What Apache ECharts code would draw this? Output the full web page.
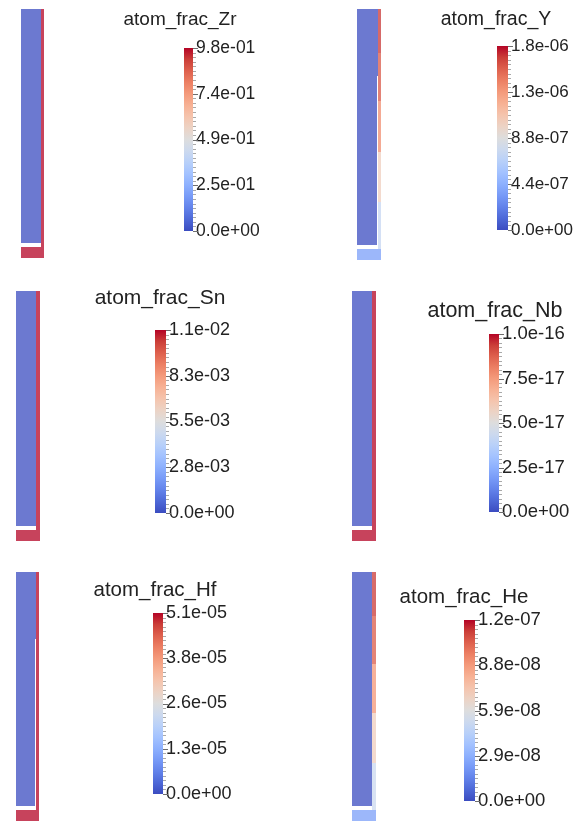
<!DOCTYPE html>
<html><head><meta charset="utf-8">
<script src="https://cdn.jsdelivr.net/npm/echarts@6/dist/echarts.min.js"></script>
<style>html,body{margin:0;padding:0;background:#fff}#c{width:588px;height:821px}</style>
</head><body><div id="c"></div>
<script>
// ---------------- DATA ----------------
const fieldNames = ['atom_frac_Zr', 'atom_frac_Y', 'atom_frac_Sn', 'atom_frac_Nb', 'atom_frac_Hf', 'atom_frac_He'];
const rangeMax = [0.98, 1.8e-6, 1.1e-2, 1.0e-16, 5.1e-5, 1.2e-7];
const tickLabelsZr = ['0.0e+00', '2.5e-01', '4.9e-01', '7.4e-01', '9.8e-01'];
const tickLabelsY  = ['0.0e+00', '4.4e-07', '8.8e-07', '1.3e-06', '1.8e-06'];
const tickLabelsSn = ['0.0e+00', '2.8e-03', '5.5e-03', '8.3e-03', '1.1e-02'];
const tickLabelsNb = ['0.0e+00', '2.5e-17', '5.0e-17', '7.5e-17', '1.0e-16'];
const tickLabelsHf = ['0.0e+00', '1.3e-05', '2.6e-05', '3.8e-05', '5.1e-05'];
const tickLabelsHe = ['0.0e+00', '2.9e-08', '5.9e-08', '8.8e-08', '1.2e-07'];
const tickLabels = [tickLabelsZr, tickLabelsY, tickLabelsSn, tickLabelsNb, tickLabelsHf, tickLabelsHe];

// mesh regions (model coordinates: r radial, z axial)
const regionNames = ['fuel', 'bottom cap', 'pellet-clad gap', 'clad z1', 'clad z2', 'clad z3', 'clad z4', 'clad z5'];
const regionR = [[0, 20], [0, 23], [19.2, 20], [20, 23], [20, 23], [20, 23], [20, 23], [20, 23]];
const regionZ = [[15, 250], [0, 11], [15, 183], [11, 58], [58, 108], [108, 158], [158, 206], [206, 250]];

// field values per region (null = empty / void)
const valuesZr = [0, 0.98, 0, 0.98, 0.98, 0.98, 0.98, 0.98];
const valuesY  = [0, 3.6e-7, null, 7.5e-7, 1.05e-6, 1.4e-6, 1.6e-6, 1.7e-6];
const valuesSn = [0, 1.1e-2, null, 1.1e-2, 1.1e-2, 1.1e-2, 1.1e-2, 1.1e-2];
const valuesNb = [0, 1.0e-16, null, 1.0e-16, 1.0e-16, 1.0e-16, 1.0e-16, 1.0e-16];
const valuesHf = [0, 5.1e-5, null, 5.1e-5, 5.1e-5, 5.1e-5, 5.1e-5, 5.1e-5];
const valuesHe = [0, 2.4e-8, null, 5.2e-8, 7.0e-8, 9.1e-8, 1.06e-7, 1.13e-7];
const fieldValues = [valuesZr, valuesY, valuesSn, valuesNb, valuesHf, valuesHe];

// ---------------- LAYOUT / STYLE ----------------
const slabBox = [ // left, top, width, height
  [21, 9, 22.5, 249], [357, 9, 24, 251],
  [16, 291, 23.5, 250], [352, 291, 23.5, 250],
  [16, 572, 23, 250], [352, 572, 23.5, 250]
];
const barBox = [
  [184, 48, 9, 183], [497, 46, 11, 184],
  [155, 330, 11, 183], [489, 334, 10, 178],
  [153, 613, 10, 181], [464, 620, 11, 181]
];
const titlePos = [[180, 20], [496, 20], [160, 298], [495, 311], [155, 590], [464, 597]];
const titleSize = [19, 19.5, 21, 21.5, 20.5, 20.5];
const labelSize = [17.5, 17, 18, 18.5, 18, 18.5];
const FONT = "'Liberation Sans', Arial, sans-serif";
const SHADE = 0.25;
const COOLWARM = [
  [59,76,192],[77,104,215],[98,130,234],[119,154,247],[141,176,254],[163,194,255],[184,208,249],[204,217,238],
  [221,221,221],[236,211,197],[245,196,173],[247,177,148],[244,154,123],[236,127,99],[222,96,77],[203,62,56],[180,4,38]
];
function cmap(t) {
  t = Math.max(0, Math.min(1, t));
  const f = t * (COOLWARM.length - 1), i = Math.min(Math.floor(f), COOLWARM.length - 2), u = f - i;
  const a = COOLWARM[i], b = COOLWARM[i + 1];
  return [0, 1, 2].map(k => a[k] + (b[k] - a[k]) * u);
}
function rgb(c) { return 'rgb(' + c.map(Math.round).join(',') + ')'; }
function shade(c) { return c.map(v => v + (255 - v) * SHADE); }

const grids = [], xAxes = [], yAxes = [], series = [], graphics = [];
fieldNames.forEach((name, p) => {
  const maxV = rangeMax[p];
  // slab grid
  const sb = slabBox[p];
  grids.push({left: sb[0], top: sb[1], width: sb[2], height: sb[3]});
  xAxes.push({type: 'value', gridIndex: 2 * p, min: 0, max: 23, show: false});
  yAxes.push({type: 'value', gridIndex: 2 * p, min: 0, max: 250, show: false});
  const data = regionNames.map((rn, i) => ({
    name: rn,
    value: [regionR[i][0], regionR[i][1], regionZ[i][0], regionZ[i][1], fieldValues[p][i] == null ? '-' : fieldValues[p][i]]
  }));
  series.push({
    type: 'custom', name: name, xAxisIndex: 2 * p, yAxisIndex: 2 * p, silent: true,
    clip: false,
    data: data,
    renderItem: function (params, api) {
      const r0 = api.value(0), r1 = api.value(1), z0 = api.value(2), z1 = api.value(3), v = api.value(4);
      const a = api.coord([r0, z1]), b = api.coord([r1, z0]);
      const x0 = Math.round(a[0]), y0 = Math.round(a[1]), x1 = Math.max(Math.round(b[0]), x0 + 1), y1 = Math.round(b[1]);
      const fill = (v == null || isNaN(v)) ? '#ffffff' : rgb(shade(cmap(v / maxV)));
      return {type: 'rect', shape: {x: x0, y: y0, width: x1 - x0, height: y1 - y0},
              style: {fill: fill}};
    }
  });
  // colour bar grid
  const bb = barBox[p];
  grids.push({left: bb[0], top: bb[1], width: bb[2], height: bb[3]});
  xAxes.push({type: 'value', gridIndex: 2 * p + 1, min: 0, max: 1, show: false});
  const labels = tickLabels[p];
  const nSeg = labels.length - 1;
  yAxes.push({
    type: 'value', gridIndex: 2 * p + 1, min: 0, max: nSeg, interval: 1, position: 'right',
    axisLine: {show: false},
    splitLine: {show: false},
    axisTick: {show: false},
    minorTick: {show: false},
    axisLabel: {show: true, margin: 3, showMinLabel: true, showMaxLabel: true,
      formatter: v => labels[Math.round(v)], fontFamily: FONT, fontSize: labelSize[p], color: '#222'}
  });
  const stops = COOLWARM.map((c, i) => ({offset: i / (COOLWARM.length - 1), color: rgb(c)}));
  series.push({
    type: 'custom', name: name + ' colorbar', xAxisIndex: 2 * p + 1, yAxisIndex: 2 * p + 1, silent: true,
    clip: false,
    data: [[0, 1, 0, nSeg]],
    renderItem: function (params, api) {
      const a = api.coord([api.value(0), api.value(3)]), b = api.coord([api.value(1), api.value(2)]);
      const children = [{type: 'rect', shape: {x: a[0], y: a[1], width: b[0] - a[0], height: b[1] - a[1]},
              style: {fill: new echarts.graphic.LinearGradient(0, 1, 0, 0, stops)}}];
      const sub = 10;
      for (let k = 0; k <= nSeg * sub; k++) {
        const y = Math.round(api.coord([1, k / sub])[1]) + 0.5;
        const major = k % sub === 0;
        children.push({type: 'line', shape: {x1: b[0], y1: y, x2: b[0] + (major ? 5 : 3), y2: y},
          style: {stroke: major ? '#6e6e6e' : '#a9a9a9', lineWidth: 1}});
      }
      return {type: 'group', children: children};
    }
  });
  graphics.push({type: 'text', x: titlePos[p][0], y: titlePos[p][1],
    style: {text: name, fontFamily: FONT, fontSize: titleSize[p], fill: '#222', align: 'center', verticalAlign: 'middle'}});
});

const chart = echarts.init(document.getElementById('c'), null, {renderer: 'canvas'});
chart.setOption({
  backgroundColor: '#ffffff',
  animation: false,
  grid: grids, xAxis: xAxes, yAxis: yAxes, series: series, graphic: graphics
});
</script></body></html>
